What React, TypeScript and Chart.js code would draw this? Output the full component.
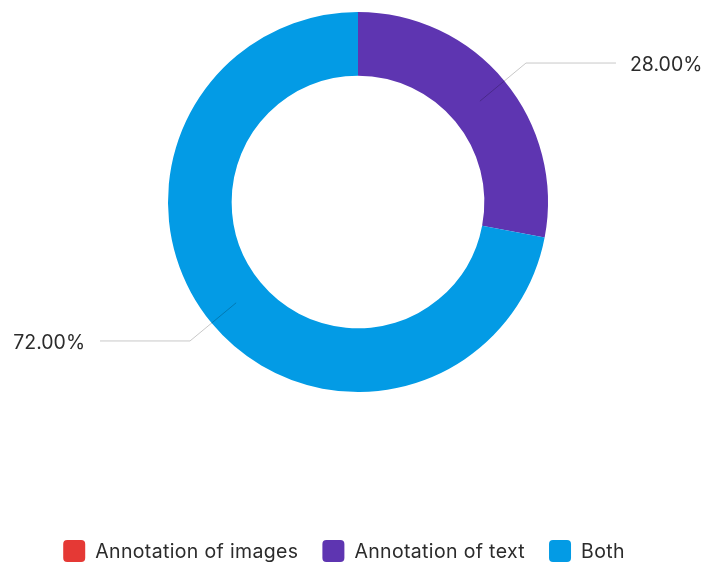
import React, { useEffect, useRef } from "react";
import { Chart, registerables } from "chart.js";

Chart.register(...registerables);

const categories = ["Annotation of images", "Annotation of text", "Both"];
const values = [0, 28, 72];
const colors = ["#e53935", "#5e35b1", "#039be5"];

const FONT = "Inter, 'Noto Sans', sans-serif";
const FONT_SIZE = 19.5;
const TEXT_COLOR = "#2b2b2b";

const leaderPlugin = {
  id: "leaderLabels",
  afterDatasetsDraw(chart: any) {
    const ctx = chart.ctx;
    const meta = chart.getDatasetMeta(0);
    const data = chart.data.datasets[0].data as number[];
    const total = data.reduce((a, b) => a + b, 0);
    ctx.save();
    ctx.font = `${FONT_SIZE}px ${FONT}`;
    ctx.textBaseline = "middle";
    meta.data.forEach((arc: any, i: number) => {
      const v = data[i];
      if (!v) return;
      const { x, y, startAngle, endAngle, innerRadius, outerRadius } = arc.getProps(
        ["x", "y", "startAngle", "endAngle", "innerRadius", "outerRadius"],
        true
      );
      const mid = (startAngle + endAngle) / 2;
      const r0 = (innerRadius + outerRadius) / 2;
      const r1 = outerRadius + 28;
      const x0 = x + Math.cos(mid) * r0;
      const y0 = y + Math.sin(mid) * r0;
      const x1 = x + Math.cos(mid) * r1;
      const y1 = y + Math.sin(mid) * r1;
      const right = Math.cos(mid) >= 0;
      const x2 = x1 + (right ? 90 : -90);
      ctx.strokeStyle = "rgba(0,0,0,0.22)";
      ctx.lineWidth = 1;
      ctx.beginPath();
      ctx.moveTo(x0, y0);
      ctx.lineTo(x1, y1);
      ctx.lineTo(x2, y1);
      ctx.stroke();
      ctx.fillStyle = TEXT_COLOR;
      ctx.textAlign = right ? "left" : "right";
      const label = ((v / total) * 100).toFixed(2) + "%";
      ctx.fillText(label, x2 + (right ? 14 : -15), y1 + 2);
    });
    ctx.restore();
  },
};

const legendPlugin = {
  id: "customLegend",
  afterDraw(chart: any) {
    const ctx = chart.ctx;
    const labels = chart.data.labels as string[];
    const bg = chart.data.datasets[0].backgroundColor as string[];
    const box = 22;
    const gapText = 10;
    const gapItem = 24;
    ctx.save();
    ctx.font = `${FONT_SIZE}px ${FONT}`;
    (ctx as any).letterSpacing = "0.35px";
    ctx.textBaseline = "middle";
    ctx.textAlign = "left";
    const widths = labels.map((l) => box + gapText + ctx.measureText(l).width);
    const total = widths.reduce((a, b) => a + b, 0) + gapItem * (labels.length - 1);
    const cx = 344;
    const cy = 551;
    let xPos = cx - total / 2;
    labels.forEach((l, i) => {
      ctx.fillStyle = bg[i];
      ctx.beginPath();
      (ctx as any).roundRect(xPos, cy - box / 2, box, box, 4);
      ctx.fill();
      ctx.fillStyle = TEXT_COLOR;
      ctx.fillText(l, xPos + box + gapText, cy + 1);
      xPos += widths[i] + gapItem;
    });
    ctx.restore();
  },
};

export default function App() {
  const ref = useRef<HTMLCanvasElement>(null);
  useEffect(() => {
    if (!ref.current) return;
    const chart = new Chart(ref.current, {
      type: "doughnut",
      data: {
        labels: categories,
        datasets: [
          {
            data: values,
            backgroundColor: colors,
            borderWidth: 0,
          },
        ],
      },
      options: {
        animation: false,
        responsive: true,
        maintainAspectRatio: false,
        cutout: "66.5%",
        layout: { padding: { top: 12, bottom: 173, left: 8, right: 0 } },
        plugins: {
          legend: { display: false },
          tooltip: { enabled: false },
        },
      },
      plugins: [leaderPlugin, legendPlugin],
    });
    return () => chart.destroy();
  }, []);
  return (
    <div style={{ position: "fixed", left: 0, top: 0, width: 708, height: 565, background: "#fff" }}>
      <canvas ref={ref} />
    </div>
  );
}
